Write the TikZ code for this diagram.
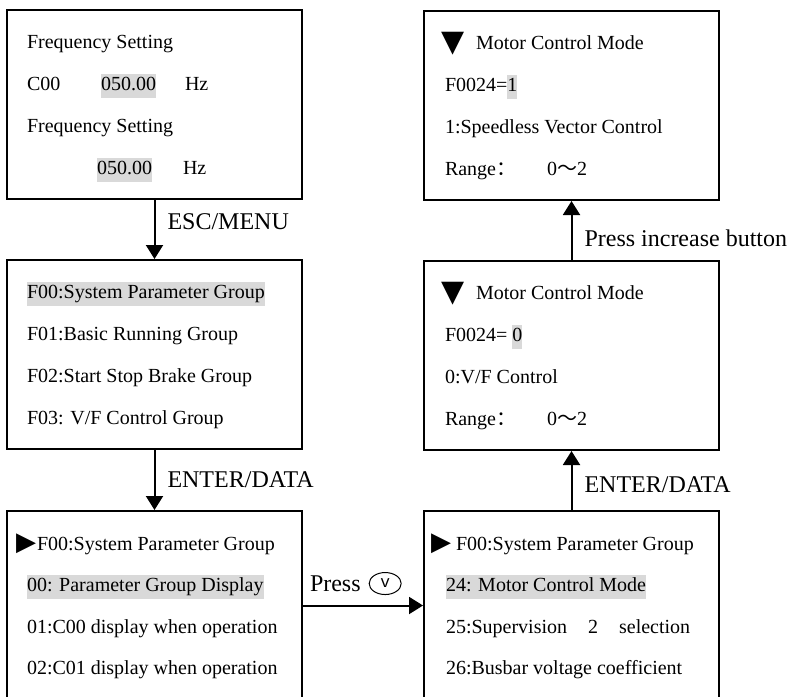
\documentclass[tikz,border=0pt]{standalone}
\usepackage{fontspec}
\setmainfont{Liberation Serif}
\newfontfamily\trifont{DejaVu Sans}
\newfontfamily\cjkfont{Noto Sans CJK SC}
\usetikzlibrary{arrows.meta, positioning, shapes.geometric}

\definecolor{hlgray}{gray}{0.85}
\newcommand{\hl}[1]{{\setlength{\fboxsep}{0pt}\colorbox{hlgray}{\strut#1}}}
\newcommand{\dntri}{\raisebox{-1pt}{\trifont\fontsize{15}{15}\selectfont ▼}}
\newcommand{\rttri}{{\trifont\fontsize{13}{13}\selectfont ▶}}
\newcommand{\cjk}[1]{{\cjkfont #1}}
% screen text: left-aligned rows, never wrapped
\newcommand{\scr}[2][127.5pt]{\makebox[#1][l]{\raisebox{-1.2pt}[\height][\depth]{\begin{tabular}{@{}l@{}}#2\end{tabular}}}}

\begin{document}
\begin{tikzpicture}[x=0.5pt, y=-0.5pt,
  screen/.style={draw, line width=1pt, minimum width=147.5pt, minimum height=94.5pt,
                 inner xsep=10pt, inner ysep=0pt, font=\fontsize{10}{12}\selectfont},
  arr/.style={-{Triangle[length=7pt, width=8.5pt]}, line width=1pt},
  lbl/.style={font=\fontsize{12}{14}\selectfont, inner sep=2pt},
  vkey/.style={draw, ellipse, line width=0.5pt, inner sep=0pt, minimum width=16pt,
               minimum height=11pt, font=\sffamily\fontsize{10}{10}\selectfont}
]
  \useasboundingbox (0,0) rectangle (790,696);
  \clip (0,0) rectangle (790,696);

  % left column
  \node[screen] (freq) at (154.5,104.5) {\scr{Frequency Setting\\[9pt]
    \makebox[37pt][l]{C00}\hl{050.00}\hspace{14.5pt}Hz\\[9pt]
    Frequency Setting\\[9pt]
    \hspace*{35pt}\hl{050.00}\hspace{15.5pt}Hz}};
  \node[screen, below=29.5pt of freq] (grp) {\scr{\hl{F00:System Parameter Group}\\[9pt]
    F01:Basic Running Group\\[9pt]
    F02:Start Stop Brake Group\\[9pt]
    F03: V/F Control Group}};
  \node[screen, below=30pt of grp] (par) {\scr{\hspace*{-5.5pt}\makebox[10.5pt][l]{\rttri}F00:System Parameter Group\\[8.75pt]
    \hl{00: Parameter Group Display}\\[8.75pt]
    01:C00 display when operation\\[8.75pt]
    02:C01 display when operation}};

  % right column
  \node[screen, right=60pt of par, inner xsep=11pt] (sel) {\scr[125.5pt]{\hspace*{-7.5pt}\makebox[12.5pt][l]{\rttri}F00:System Parameter Group\\[8.75pt]
    \hl{24: Motor Control Mode}\\[8.75pt]
    25:Supervision\hspace{10.5pt}2\hspace{10.5pt}selection\\[8.75pt]
    26:Busbar voltage coefficient}};
  \node[screen, above=29.5pt of sel, inner xsep=10.5pt] (vf) {\scr[126.5pt]{\hspace*{-2pt}\makebox[17.5pt][l]{\dntri}Motor Control Mode\\[9pt]
    F0024= \hl{0}\\[9pt]
    0:V/F Control\\[9pt]
    \makebox[51pt][l]{Range\cjk{：}}0\cjk{～}2}};
  \node[screen, above=29.5pt of vf, inner xsep=10.5pt] (svc) {\scr[126.5pt]{\hspace*{-2pt}\makebox[17.5pt][l]{\dntri}Motor Control Mode\\[9pt]
    F0024=\hl{1}\\[9pt]
    1:Speedless Vector Control\\[9pt]
    \makebox[51pt][l]{Range\cjk{：}}0\cjk{～}2}};

  % key presses
  \draw[arr] (freq) -- node (esc) [lbl, right, pos=0.36, xshift=4pt] {ESC/MENU} (grp);
  \draw[arr] (grp) -- node (ent1) [lbl, right, xshift=4pt] {ENTER/DATA} (par);
  \draw[arr] (par) -- node (press) [lbl, above right, pos=0, xshift=1pt, yshift=4.5pt] {Press} (sel);
  \node[vkey, right=1.5pt of press] (vkey) {v};
  \draw[arr] (sel) -- node (ent2) [lbl, right, pos=0.43, xshift=4pt] {ENTER/DATA} (vf);
  \draw[arr] (vf) -- node (incr) [lbl, right, pos=0.36, xshift=4pt] {Press increase button} (svc);
\end{tikzpicture}
\end{document}
